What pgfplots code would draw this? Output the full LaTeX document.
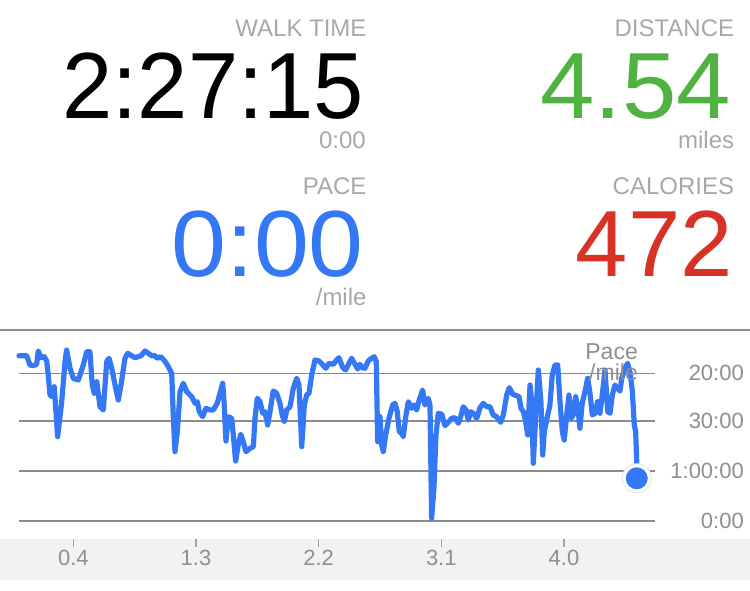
\documentclass[border=0pt]{standalone}
\usepackage{fontspec}
\setmainfont{Liberation Sans}
\usepackage{pgfplots}
\pgfplotsset{compat=1.18}
\definecolor{lineblue}{RGB}{52,120,246}
\definecolor{gridgray}{RGB}{140,140,140}
\definecolor{tickgray}{RGB}{142,142,147}
\definecolor{headgray}{RGB}{168,168,168}
\definecolor{bandgray}{RGB}{242,242,242}
\definecolor{distgreen}{RGB}{80,178,64}
\definecolor{calred}{RGB}{215,50,38}
\newcommand{\hfont}{\fontsize{24}{28}\selectfont}
\newcommand{\bfont}{\fontsize{94}{100}\selectfont}
\begin{document}
\begin{tikzpicture}
\path[use as bounding box] (0,0) rectangle (750pt,591pt);
% header texts (y = 591 - pixel row)
\node[anchor=base east, inner sep=0pt, text=headgray, font=\hfont] at (366.7pt,554.3pt) {WALK TIME};
\node[anchor=base east, inner sep=0pt, text=black, font=\bfont] at (364pt,472.7pt) {\scalebox{0.96}[1]{2:27:15}};
\node[anchor=base east, inner sep=0pt, text=headgray, font=\hfont] at (366pt,442.7pt) {0:00};
\node[anchor=base east, inner sep=0pt, text=headgray, font=\hfont] at (366.7pt,396pt) {PACE};
\node[anchor=base east, inner sep=0pt, text=lineblue, font=\bfont] at (364pt,314.3pt) {\scalebox{1.05}[1]{0:00}};
\node[anchor=base east, inner sep=0pt, text=headgray, font=\hfont] at (366.7pt,285pt) {/mile};
\node[anchor=base east, inner sep=0pt, text=headgray, font=\hfont] at (734.3pt,554.3pt) {DISTANCE};
\node[anchor=base east, inner sep=0pt, text=distgreen, font=\bfont] at (731pt,472.7pt) {\scalebox{1.04}[1]{4.54}};
\node[anchor=base east, inner sep=0pt, text=headgray, font=\hfont] at (734.3pt,442.7pt) {miles};
\node[anchor=base east, inner sep=0pt, text=headgray, font=\hfont] at (734.3pt,396pt) {CALORIES};
\node[anchor=base east, inner sep=0pt, text=calred, font=\bfont] at (733pt,314.3pt) {472};
% separator and bottom band
\draw[gridgray, line width=1.2pt] (0,261pt) -- (750pt,261pt);
\fill[bandgray] (0,11pt) rectangle (750pt,52pt);
\begin{axis}[
  at={(18.8pt,52pt)}, anchor=south west,
  width=636.2pt, height=209pt, scale only axis,
  xmin=0, xmax=4.668, ymin=-18, ymax=191,
  clip=false,
  axis x line=bottom, axis y line=right,
  axis line style={draw=none, -},
  tick align=outside, major tick length=8pt,
  xtick={0.4,1.3,2.2,3.1,4.0},
  xticklabels={0.4,1.3,2.2,3.1,4.0},
  xtick style={draw=gridgray!80, line width=1.5pt},
  ytick={0,50,100,147.7},
  yticklabels={0:00,1:00:00,30:00,20:00},
  ytick style={draw=none},
  ymajorgrids,
  grid style={draw=gridgray, line width=1.2pt},
  /pgf/number format/assume math mode=true,
  tick label style={font=\fontsize{22}{26}\selectfont, text=tickgray},
  yticklabel style={anchor=east, inner sep=0pt, xshift=81pt},
]
\addplot[lineblue, line width=5.2pt, line join=round, line cap=round] table {
x y
0.001 165.3
0.058 165.3
0.082 156
0.106 155.3
0.131 156.7
0.143 170
0.163 163.3
0.187 164.3
0.205 160
0.216 146
0.229 126
0.246 124.3
0.260 134.3
0.285 84.3
0.315 119.3
0.339 159.3
0.351 171
0.376 152.7
0.400 142.7
0.437 141
0.473 156
0.498 169.3
0.522 169.3
0.539 136
0.554 127.7
0.572 139.3
0.596 114.3
0.620 111
0.645 159.3
0.662 162.7
0.682 152.7
0.701 139.3
0.730 121
0.750 136
0.779 162.7
0.799 167.7
0.828 165.3
0.853 163.3
0.897 165.3
0.926 170
0.950 167.7
0.975 165.3
0.999 165.3
1.016 162.7
1.041 164.3
1.065 161
1.090 156
1.122 147.7
1.134 102.7
1.146 69.3
1.163 89.3
1.183 129.3
1.207 137.7
1.232 129.3
1.269 124.3
1.293 117.7
1.310 119.3
1.324 109.3
1.349 104.3
1.373 112.7
1.403 111
1.427 111
1.456 117.7
1.476 127.7
1.496 137.7
1.506 119.3
1.520 80
1.537 104.3
1.562 102.7
1.574 86
1.591 60
1.610 76
1.628 86.7
1.647 79.3
1.667 69.3
1.696 72.7
1.721 74.3
1.733 102.7
1.750 122.7
1.770 119.3
1.790 107.7
1.806 109.3
1.826 96
1.843 109.3
1.867 130
1.892 127.7
1.916 117.7
1.933 106
1.948 99.3
1.966 111
1.990 114.3
2.014 132.7
2.039 142.7
2.056 136
2.076 74.3
2.095 116
2.112 126
2.129 127.7
2.149 146
2.173 161
2.203 160
2.227 156.7
2.252 152.7
2.276 157.7
2.308 156.7
2.332 161
2.349 163.3
2.374 154.3
2.398 151
2.423 157.7
2.442 162.7
2.467 156.7
2.487 152
2.503 156.7
2.520 153.3
2.540 152.7
2.564 160
2.589 162.7
2.608 164.3
2.623 159.3
2.633 79.3
2.650 104.3
2.663 76
2.674 69.3
2.692 86
2.716 102.7
2.743 116
2.760 117.7
2.777 109.3
2.792 89.3
2.809 87.7
2.821 84.3
2.841 106
2.858 119.3
2.883 112.7
2.900 116
2.919 111
2.938 121
2.963 131
2.980 116
3.004 122.7
3.017 116
3.029 2.7
3.046 32.7
3.061 86
3.078 107.7
3.103 106.7
3.127 95.3
3.151 98.7
3.176 102.7
3.200 103.3
3.225 97.7
3.242 104.3
3.261 114.3
3.281 111
3.298 101
3.315 109.3
3.335 107.7
3.360 102.7
3.384 113.3
3.408 117.7
3.433 114.3
3.457 114.3
3.481 106
3.506 104.3
3.536 98.7
3.555 106
3.580 126
3.599 133.3
3.624 126.7
3.653 125.3
3.670 124.3
3.685 112.7
3.702 109.3
3.719 99.3
3.734 86
3.751 136
3.763 119.3
3.775 57.7
3.792 102.7
3.812 151
3.831 119.3
3.844 66
3.856 89.3
3.873 101
3.897 116
3.914 146
3.934 156
3.954 156
3.971 119.3
3.988 89.3
4.002 81
4.020 106
4.037 126
4.052 102.7
4.068 106
4.086 124.3
4.105 109.3
4.117 92.7
4.134 117.7
4.154 129.3
4.174 142.7
4.191 127.7
4.208 106
4.228 107.7
4.247 119.3
4.264 107.7
4.281 126
4.301 151
4.321 109.3
4.338 107.7
4.355 126
4.374 136
4.394 132.7
4.411 130
4.424 142.7
4.448 152.7
4.467 157.7
4.484 149.3
4.501 131
4.516 96
4.526 89.3
4.534 59.3
4.534 42.7
};
\addplot[draw=none, only marks, mark=*, mark size=14.8pt, color=black!10, mark options={fill=black!10, draw=black!10}] coordinates {(4.534,42.7)};
\addplot[draw=none, only marks, mark=*, mark size=12.6pt, color=white, mark options={fill=lineblue, draw=white, line width=3pt}] coordinates {(4.534,42.7)};
\end{axis}
\node[anchor=base east, inner sep=0pt, text=tickgray, font=\fontsize{23}{27}\selectfont] at (638pt,231pt) {Pace};
\node[anchor=base east, inner sep=0pt, text=tickgray, font=\fontsize{23}{27}\selectfont] at (638pt,210pt) {/mile};
\end{tikzpicture}
\end{document}
